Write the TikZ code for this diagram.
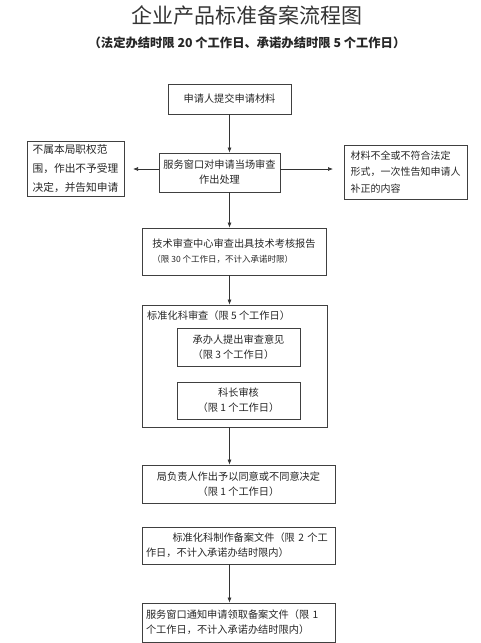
\documentclass[tikz,border=0pt]{standalone}
\usepackage{fontspec}
\setmainfont{Noto Sans CJK SC}
\usetikzlibrary{arrows.meta}

\begin{document}
\begin{tikzpicture}[x=1pt, y=-1pt,
    kuang/.style={draw=black!75, line width=0.8pt, text=black!85, inner sep=3pt,
      font=\fontsize{10.2}{15}\selectfont},
    jiantou/.style={-{Latex[length=5pt,width=4pt]}, black!80, line width=0.7pt}]
  \useasboundingbox (0,0) rectangle (480,643);

  % 标题
  \node[font=\fontsize{21}{24}\selectfont, text=black!80] (biaoti) at (247,15) {企业产品标准备案流程图};
  \node[font=\bfseries\fontsize{12.3}{14}\selectfont, text=black!85] (fubiaoti) at (247,43)
    {（法定办结时限 20 个工作日、承诺办结时限 5 个工作日）};

  % 申请与受理
  \node[kuang, minimum width=123, minimum height=30] (tijiao) at (229.5,99) {申请人提交申请材料};
  \node[kuang, minimum width=121, minimum height=39, align=center] (chuangkou) at (219.5,172.5)
    {服务窗口对申请当场审查\\作出处理};
  \node[kuang, minimum width=97, minimum height=55, align=left,
    font=\fontsize{10.7}{19}\selectfont] (buyu) at (75.5,168.5)
    {不属本局职权范\\围，作出不予受理\\决定，并告知申请};
  \node[kuang, minimum width=123, minimum height=54, align=left,
    font=\fontsize{10}{16.5}\selectfont] (buzheng) at (405.5,172)
    {材料不全或不符合法定\\形式，一次性告知申请人\\补正的内容};
  \coordinate (zuo) at (133,169);
  \coordinate (you) at (333,169);

  % 技术审查
  \node[kuang, minimum width=184, minimum height=47, align=left] (jishu) at (234,251.5)
    {技术审查中心审查出具技术考核报告\\{\fontsize{8.5}{15}\selectfont （限 30 个工作日，不计入承诺时限）}};

  % 标准化科审查
  \node[kuang, minimum width=185, minimum height=122] (keshen) at (234.5,366) {};
  \node[anchor=west, inner sep=0pt, text=black!85, font=\fontsize{10.2}{12}\selectfont] (keshenbt)
    at (147,316) {标准化科审查（限 5 个工作日）};
  \node[kuang, minimum width=123, minimum height=38, align=left] (chengban) at (238.5,347)
    {承办人提出审查意见\\（限 3 个工作日）};
  \node[kuang, minimum width=123, minimum height=37, align=center] (kezhang) at (238.5,400.5)
    {科长审核\\（限 1 个工作日）};

  % 决定与备案
  \node[kuang, minimum width=193, minimum height=38, align=center] (juding) at (238.5,484)
    {局负责人作出予以同意或不同意决定\\（限 1 个工作日）};
  \node[kuang, text width=185, inner xsep=4pt, minimum height=37, align=left] (zhizuo) at (238.5,545.5)
    {\hspace*{2.6em}标准化科制作备案文件（限 2 个工\\作日，不计入承诺办结时限内）};
  \node[kuang, text width=185, inner xsep=4pt, minimum height=39, align=left] (lingqu) at (238.5,622.5)
    {服务窗口通知申请领取备案文件（限 1\\个工作日，不计入承诺办结时限内）};

  % 箭头
  \draw[jiantou] (tijiao.south) -- (tijiao.south |- chuangkou.north);
  \draw[jiantou] (chuangkou.west |- zuo) -- (zuo);
  \draw[jiantou] (chuangkou.east |- you) -- (you);
  \draw[jiantou] (tijiao.south |- chuangkou.south) -- (tijiao.south |- jishu.north);
  \draw[jiantou] (tijiao.south |- jishu.south) -- (tijiao.south |- keshen.north);
  \draw[jiantou] (tijiao.south |- keshen.south) -- (tijiao.south |- juding.north);
  \draw[jiantou] (tijiao.south |- zhizuo.south) -- (tijiao.south |- lingqu.north);
\end{tikzpicture}
\end{document}
